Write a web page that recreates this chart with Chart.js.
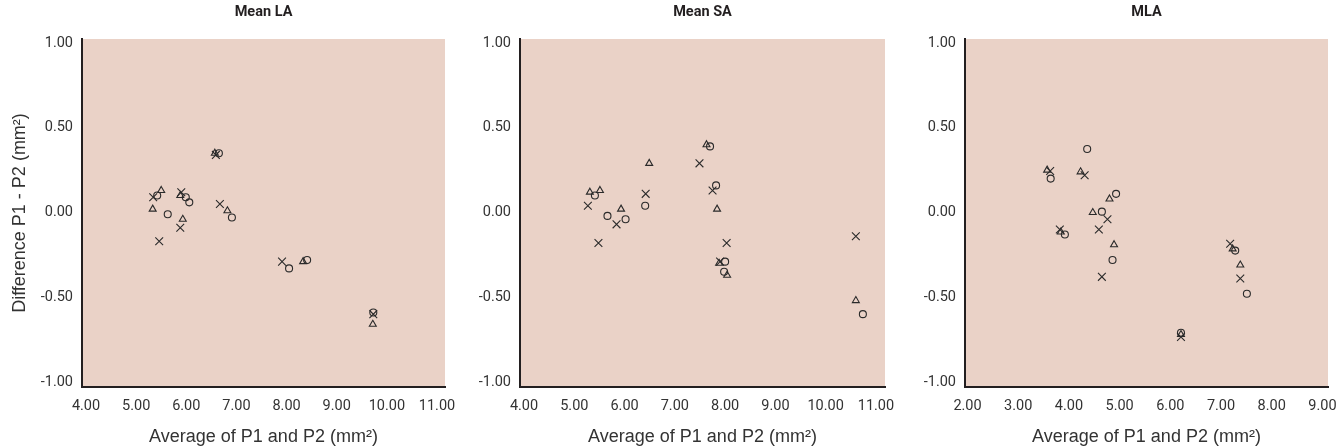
<!DOCTYPE html>
<html>
<head>
<meta charset="utf-8">
<script src="https://cdn.jsdelivr.net/npm/chart.js@4"></script>
<style>
  html, body { margin: 0; padding: 0; background: #fff; }
  body { width: 1336px; height: 448px; position: relative; overflow: hidden; }
  .panel { position: absolute; top: 0; height: 448px; }
</style>
</head>
<body>
<div class="panel" style="left:0;width:455px"><canvas id="chartLA" width="455" height="448"></canvas></div>
<div class="panel" style="left:460px;width:435px"><canvas id="chartSA" width="435" height="448"></canvas></div>
<div class="panel" style="left:905px;width:431px"><canvas id="chartMLA" width="431" height="448"></canvas></div>

<script>
// --- axis ticks ---
const yTicks = [-1, -0.5, 0, 0.5, 1];
const xTicksLA = [4, 5, 6, 7, 8, 9, 10, 11];
const xTicksSA = [4, 5, 6, 7, 8, 9, 10, 11];
const xTicksMLA = [2, 3, 4, 5, 6, 7, 8, 9];

// --- Mean LA (x = average, y = difference) ---
const laCircles = [[6.65, 0.35], [5.42, 0.10], [5.99, 0.09], [6.06, 0.06], [5.63, -0.01],
  [6.91, -0.03], [8.05, -0.33], [8.41, -0.28], [9.73, -0.59]];
const laTriangles = [[6.57, 0.35], [5.50, 0.13], [5.88, 0.10], [5.33, 0.02], [5.93, -0.04],
  [6.82, 0.01], [8.33, -0.29], [9.72, -0.66]];
const laCrosses = [[6.59, 0.34], [5.34, 0.09], [5.90, 0.12], [5.88, -0.09], [5.46, -0.17],
  [6.67, 0.05], [7.91, -0.29], [9.73, -0.60]];

// --- Mean SA ---
const saCircles = [[7.70, 0.39], [7.82, 0.16], [5.41, 0.10], [6.41, 0.04], [5.66, -0.02],
  [6.02, -0.04], [8.00, -0.29], [7.98, -0.35], [10.74, -0.60]];
const saTriangles = [[7.63, 0.40], [6.49, 0.29], [5.31, 0.12], [5.51, 0.13], [5.93, 0.02],
  [7.84, 0.02], [7.88, -0.30], [8.04, -0.37], [10.60, -0.52]];
const saCrosses = [[7.49, 0.29], [7.75, 0.13], [5.27, 0.04], [6.42, 0.11], [5.84, -0.07],
  [5.48, -0.18], [8.03, -0.18], [7.90, -0.29], [10.60, -0.14]];

// --- MLA ---
const mlaCircles = [[4.36, 0.375], [3.64, 0.20], [4.93, 0.11], [4.65, 0.005], [3.92, -0.13],
  [4.86, -0.28], [7.28, -0.225], [7.51, -0.48], [6.21, -0.71]];
const mlaTriangles = [[3.57, 0.25], [4.23, 0.24], [4.80, 0.08], [4.47, 0.00], [3.84, -0.115],
  [4.89, -0.19], [7.23, -0.215], [7.38, -0.31], [6.21, -0.72]];
const mlaCrosses = [[3.63, 0.245], [4.31, 0.22], [4.76, -0.04], [4.59, -0.10], [3.82, -0.10],
  [4.65, -0.38], [7.18, -0.185], [7.38, -0.39], [6.21, -0.735]];

const INK = '#231f20';
const FONT_TICK = 'Roboto, "Liberation Sans", sans-serif';
const FONT_TITLE = '"Liberation Sans", sans-serif';

// fondo rosado del area + titulo centrado sobre el plot
const panelDeco = {
  id: 'panelDeco',
  beforeDraw(chart, args, opts) {
    const { ctx, chartArea: a } = chart;
    ctx.save();
    ctx.fillStyle = '#ead2c7';
    ctx.fillRect(a.left, a.top, a.right - a.left, a.bottom - a.top);
    ctx.font = 'bold 14.5px ' + FONT_TICK;
    ctx.fillStyle = INK;
    ctx.textAlign = 'center';
    ctx.textBaseline = 'middle';
    ctx.fillText(opts.title, (a.left + a.right) / 2, 12);
    ctx.restore();
  }
};

function markers(points, style, radius) {
  return {
    data: points.map(([x, y]) => ({ x, y })),
    pointStyle: style,
    pointRadius: radius,
    pointBorderColor: '#2a2a2a',
    pointBackgroundColor: 'rgba(0,0,0,0)',
    pointBorderWidth: 1.1,
    showLine: false
  };
}

function makePanel(id, cfg) {
  const ctx = document.getElementById(id).getContext('2d');
  return new Chart(ctx, {
    type: 'scatter',
    data: {
      datasets: [
        markers(cfg.circles, 'circle', 3.5),
        markers(cfg.triangles, 'triangle', 4),
        markers(cfg.crosses, 'crossRot', 5.5)
      ]
    },
    plugins: [panelDeco],
    options: {
      responsive: false,
      animation: false,
      events: [],
      layout: { padding: { top: 39, right: cfg.padRight, left: 0, bottom: 0 } },
      plugins: {
        legend: { display: false },
        tooltip: { enabled: false },
        panelDeco: { title: cfg.title }
      },
      scales: {
        x: {
          type: 'linear',
          min: cfg.xMin,
          max: cfg.xMax,
          afterBuildTicks: (s) => { s.ticks = cfg.xTicks.map(v => ({ value: v })); },
          // alto fijo, y sin el relleno extra que mete chart.js por la ultima etiqueta
          afterFit: (s) => { s.height = 61; s.paddingLeft = 0; s.paddingRight = 0; },
          grid: { display: false, drawTicks: false },
          border: { display: true, color: INK, width: 2 },
          ticks: {
            padding: 11,
            color: '#333',
            font: { family: FONT_TICK, size: 14.5 },
            maxRotation: 0,
            callback: (v) => Number(v).toFixed(2)
          },
          title: {
            display: true,
            text: 'Average of P1 and P2 (mm²)',
            color: '#333',
            font: { family: FONT_TITLE, size: 18 },
            padding: { top: 0, bottom: 0 }
          }
        },
        y: {
          type: 'linear',
          min: -1.03,
          max: 1.024,
          afterBuildTicks: (s) => { s.ticks = yTicks.map(v => ({ value: v })); },
          afterFit: (s) => { s.width = cfg.yWidth; s.paddingTop = 0; s.paddingBottom = 0; },
          grid: { display: false, drawTicks: false },
          border: { display: true, color: INK, width: 2 },
          ticks: {
            padding: 9,
            color: '#333',
            font: { family: FONT_TICK, size: 14.5 },
            callback: (v) => Number(v).toFixed(2)
          },
          title: {
            display: cfg.yTitle,
            text: 'Difference P1 - P2 (mm²)',
            color: '#333',
            font: { family: FONT_TITLE, size: 18 },
            padding: { top: 9, bottom: 0 }
          }
        }
      }
    }
  });
}

makePanel('chartLA', {
  title: 'Mean LA', circles: laCircles, triangles: laTriangles, crosses: laCrosses,
  xTicks: xTicksLA, xMin: 3.92, xMax: 11.16, yWidth: 82, padRight: 10, yTitle: true
});
makePanel('chartSA', {
  title: 'Mean SA', circles: saCircles, triangles: saTriangles, crosses: saCrosses,
  xTicks: xTicksSA, xMin: 3.92, xMax: 11.18, yWidth: 60, padRight: 10, yTitle: false
});
makePanel('chartMLA', {
  title: 'MLA', circles: mlaCircles, triangles: mlaTriangles, crosses: mlaCrosses,
  xTicks: xTicksMLA, xMin: 1.95, xMax: 9.11, yWidth: 60, padRight: 8, yTitle: false
});
</script>
</body>
</html>
